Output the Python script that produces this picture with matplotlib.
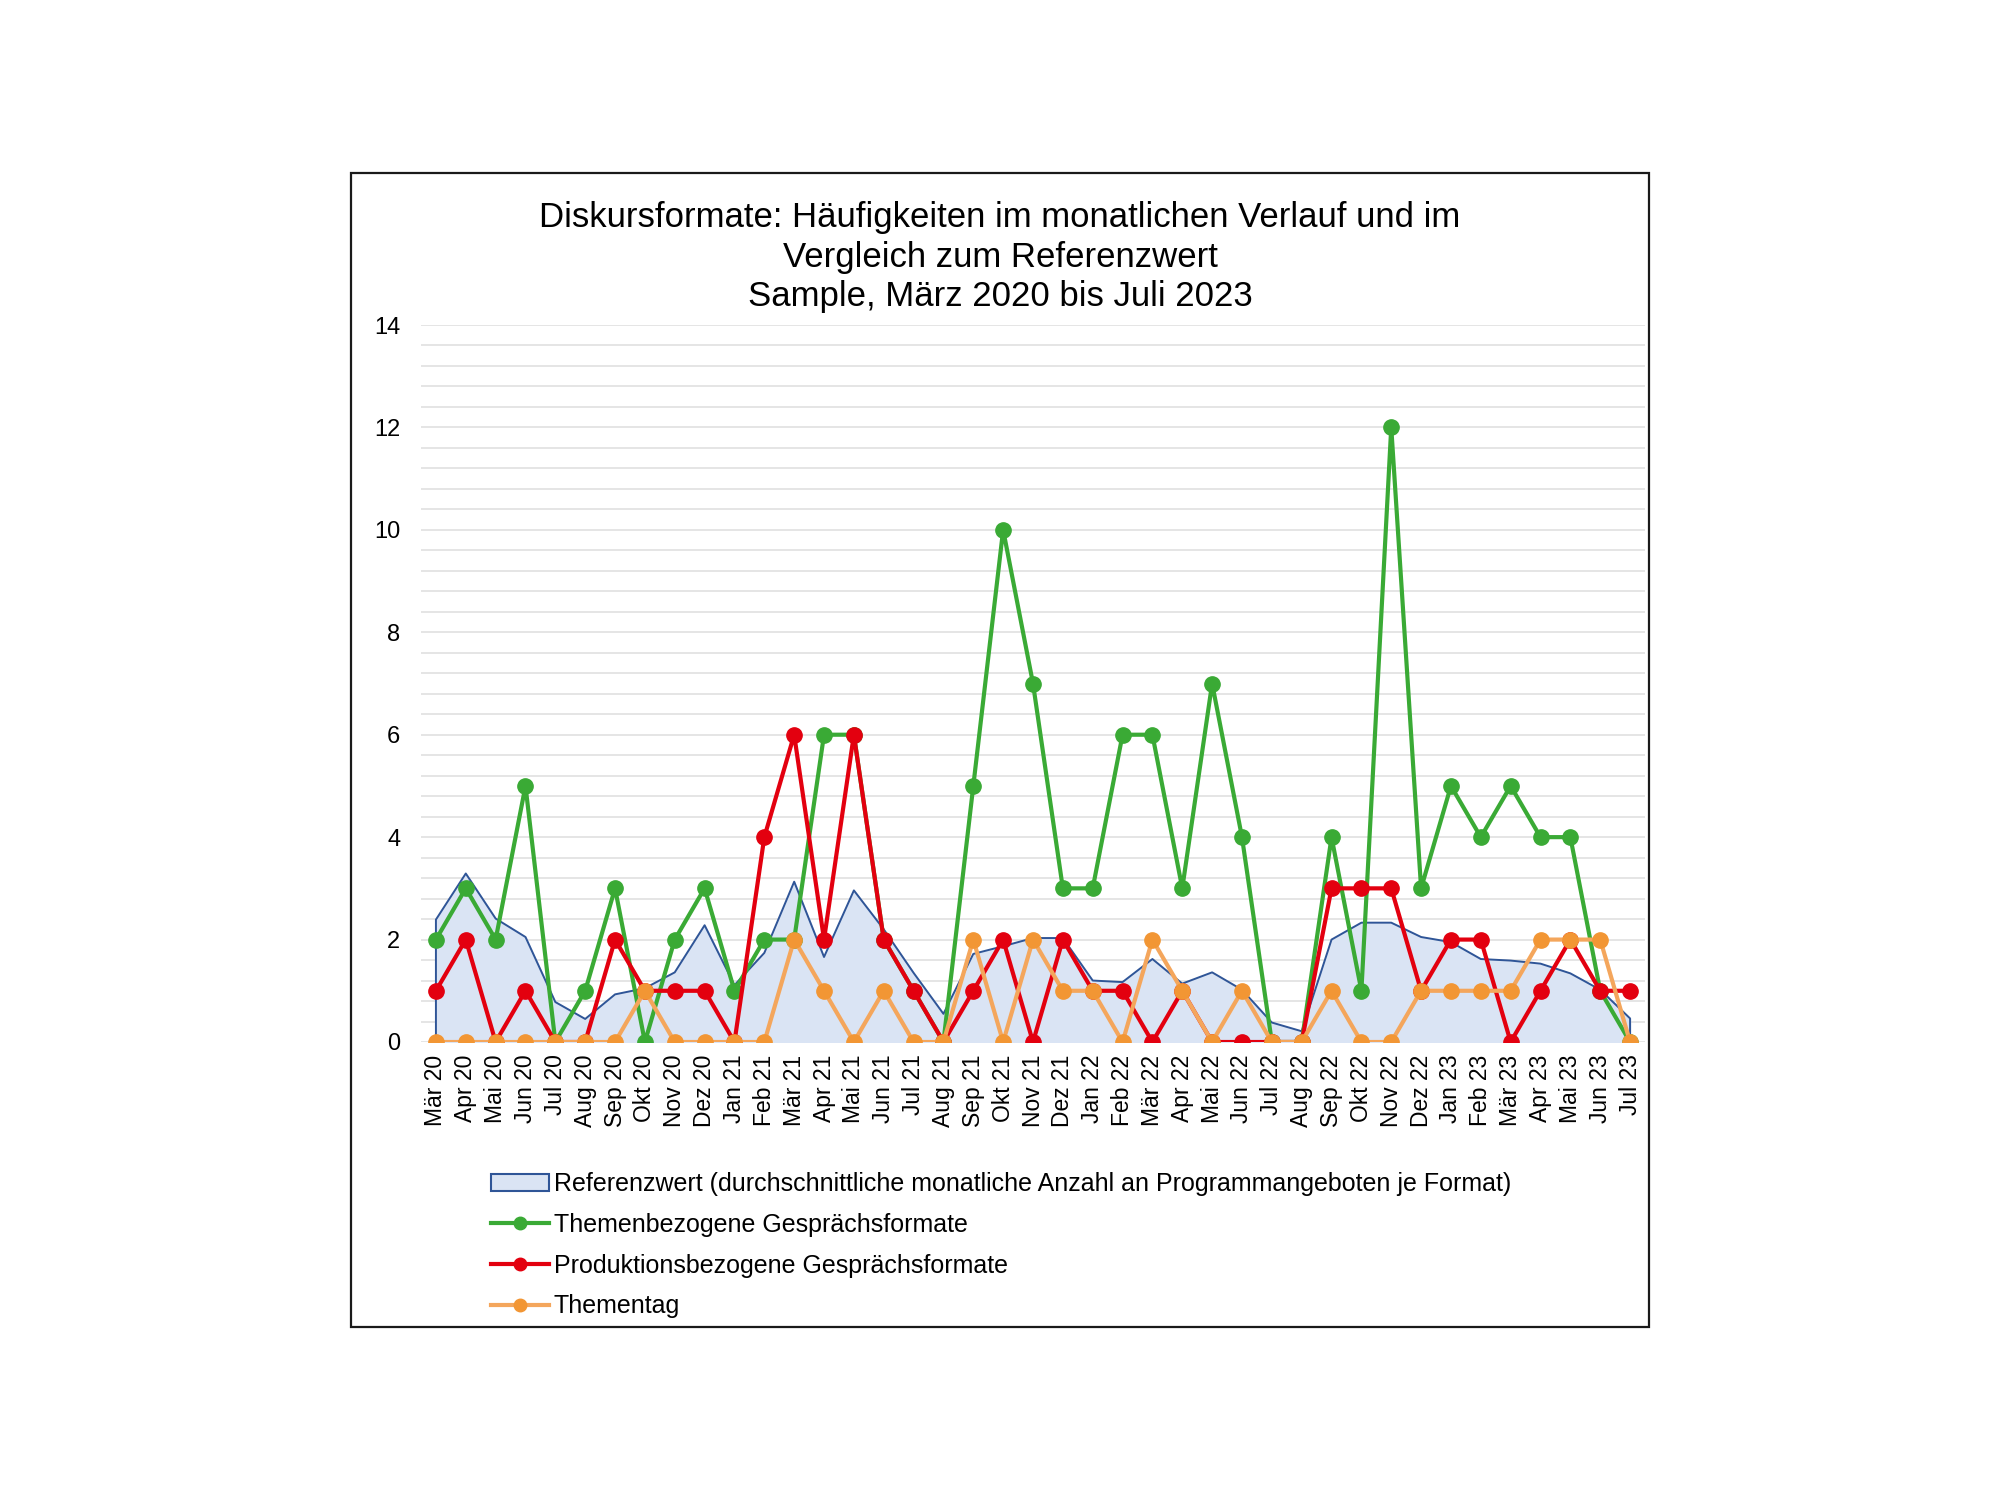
import numpy as np
import matplotlib
matplotlib.use('Agg')
import matplotlib.pyplot as plt
from matplotlib.patches import Rectangle, Patch
from matplotlib.lines import Line2D

plt.rcParams['font.family'] = ['Liberation Sans', 'DejaVu Sans']

months = ['Mär 20', 'Apr 20', 'Mai 20', 'Jun 20', 'Jul 20', 'Aug 20', 'Sep 20', 'Okt 20',
          'Nov 20', 'Dez 20', 'Jan 21', 'Feb 21', 'Mär 21', 'Apr 21', 'Mai 21', 'Jun 21',
          'Jul 21', 'Aug 21', 'Sep 21', 'Okt 21', 'Nov 21', 'Dez 21', 'Jan 22', 'Feb 22',
          'Mär 22', 'Apr 22', 'Mai 22', 'Jun 22', 'Jul 22', 'Aug 22', 'Sep 22', 'Okt 22',
          'Nov 22', 'Dez 22', 'Jan 23', 'Feb 23', 'Mär 23', 'Apr 23', 'Mai 23', 'Jun 23',
          'Jul 23']

# Referenzwert
referenz = [2.39, 3.29, 2.41, 2.05, 0.78, 0.45, 0.93, 1.05, 1.36, 2.28, 1.11, 1.74,
            3.13, 1.66, 2.96, 2.2, 1.35, 0.55, 1.72, 1.87, 2.03, 2.03, 1.2, 1.17,
            1.62, 1.14, 1.36, 1.02, 0.38, 0.21, 2.0, 2.33, 2.33, 2.05, 1.95, 1.62,
            1.59, 1.53, 1.34, 1.02, 0.46]

themen = [2, 3, 2, 5, 0, 1, 3, 0, 2, 3, 1, 2, 2, 6, 6, 2, 1, 0, 5, 10, 7, 3, 3, 6,
          6, 3, 7, 4, 0, 0, 4, 1, 12, 3, 5, 4, 5, 4, 4, 1, 0]

produktion = [1, 2, 0, 1, 0, 0, 2, 1, 1, 1, 0, 4, 6, 2, 6, 2, 1, 0, 1, 2, 0, 2, 1, 1,
              0, 1, 0, 0, 0, 0, 3, 3, 3, 1, 2, 2, 0, 1, 2, 1, 1]

thementag = [0, 0, 0, 0, 0, 0, 0, 1, 0, 0, 0, 0, 2, 1, 0, 1, 0, 0, 2, 0, 2, 1, 1, 0,
             2, 1, 0, 1, 0, 0, 1, 0, 0, 1, 1, 1, 1, 2, 2, 2, 0]

labels = ['Referenzwert (durchschnittliche monatliche Anzahl an Programmangeboten je Format)',
          'Themenbezogene Gesprächsformate',
          'Produktionsbezogene Gesprächsformate',
          'Thementag']

W, H = 2000, 1500
fig = plt.figure(figsize=(20, 15), dpi=100)

# outer frame
fig.patches.append(Rectangle((351 / W, 1 - 1327 / H), (1649 - 351) / W, (1327 - 173) / H,
                             transform=fig.transFigure, fill=False,
                             edgecolor='#1a1a1a', linewidth=1.6))

ax = fig.add_axes([421 / W, 1 - 1042 / H, (1645 - 421) / W, (1042 - 325) / H])
x = np.arange(len(months))

ax.fill_between(x, referenz, 0, color='#DAE4F4', zorder=1)
ax.plot(np.r_[x[0], x, x[-1]], np.r_[0, referenz, 0], color='#2F5597', lw=1.4, zorder=2)

ax.plot(x, themen, color='#3AAA35', lw=3.0, marker='o', ms=11, zorder=3)
ax.plot(x, produktion, color='#E3000F', lw=3.0, marker='o', ms=11, zorder=4)
ax.plot(x, thementag, color='#F4A65C', lw=3.0, marker='o', ms=11,
        mfc='#F29634', mec='#F29634', zorder=5)

ax.set_xlim(-0.5, len(months) - 0.5)
ax.set_ylim(0, 14)
for v in np.arange(0, 14.01, 0.4):
    ax.axhline(v, color='#E0E0E0', lw=1.2, zorder=0)
ax.set_yticks(range(0, 15, 2))
ax.set_xticks(x)
ax.set_xticklabels(months, rotation=90, fontsize=16.5)
ax.tick_params(axis='y', labelsize=17, length=0, pad=15)
ax.tick_params(axis='x', length=0, pad=9)
for s in ax.spines.values():
    s.set_visible(False)

fig.text(0.5, 1 - 257 / H,
         'Diskursformate: Häufigkeiten im monatlichen Verlauf und im\n'
         'Vergleich zum Referenzwert\nSample, März 2020 bis Juli 2023',
         ha='center', va='center', fontsize=25, linespacing=1.24)

handles = [Patch(facecolor='#DAE4F4', edgecolor='#2F5597', lw=1.5),
           Line2D([], [], color='#3AAA35', lw=3.0, marker='o', ms=9),
           Line2D([], [], color='#E3000F', lw=3.0, marker='o', ms=9),
           Line2D([], [], color='#F4A65C', lw=3.0, marker='o', ms=9,
                  mfc='#F29634', mec='#F29634')]
fig.legend(handles, labels, loc='upper left', bbox_to_anchor=(491 / W, 1 - 1172 / H),
           frameon=False, fontsize=18, handlelength=2.3, handletextpad=0.2,
           labelspacing=0.67, borderpad=0, borderaxespad=0)

fig.savefig('out.png', dpi=100, facecolor='white')
